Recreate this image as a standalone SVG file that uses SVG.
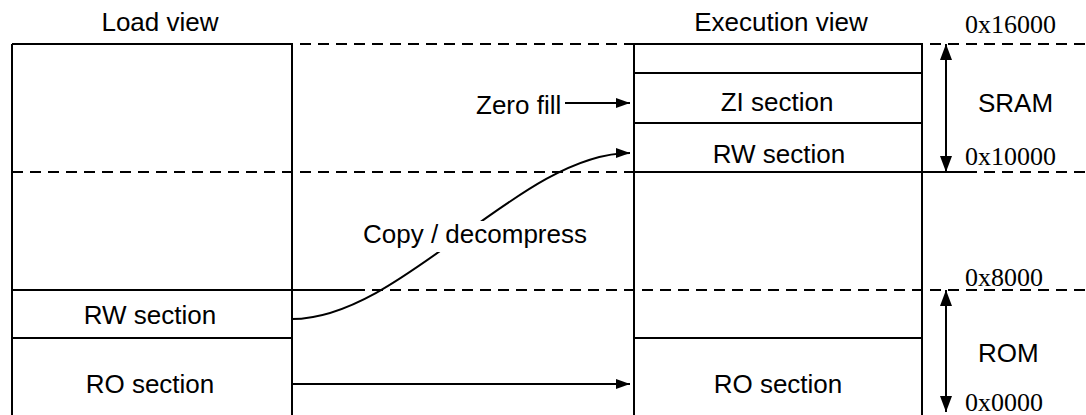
<svg xmlns="http://www.w3.org/2000/svg" width="1086" height="415" viewBox="0 0 1086 415">
<style>
.ln{stroke:#000;stroke-width:2;fill:none}
.dash{stroke:#000;stroke-width:2;fill:none;stroke-dasharray:11 7}
.t{font-family:"Liberation Sans",Arial,sans-serif;font-size:26px;fill:#000}
.s{font-family:"Liberation Serif","Times New Roman",serif;font-size:26px;fill:#000}
.m{text-anchor:middle}
</style>
<defs>
<marker id="ah" markerUnits="userSpaceOnUse" markerWidth="14" markerHeight="10" refX="14" refY="5" orient="auto-start-reverse">
<path d="M0,0 L14,5 L0,10 z" fill="#000"/>
</marker>
<marker id="ahv" markerUnits="userSpaceOnUse" markerWidth="16" markerHeight="12" refX="16" refY="6" orient="auto-start-reverse">
<path d="M0,0 L16,6 L0,12 z" fill="#000"/>
</marker>
</defs>
<rect width="1086" height="415" fill="#fff"/>

<g id="boundaries">
<line class="dash" x1="12" y1="44" x2="1086" y2="44"/>
<line class="dash" x1="12" y1="172" x2="1086" y2="172"/>
<line class="dash" x1="12" y1="290" x2="1086" y2="290"/>
</g>

<g id="load-view">
<text class="t m" x="160" y="31">Load view</text>
<line class="ln" x1="12" y1="44" x2="12" y2="415"/>
<line class="ln" x1="292" y1="44" x2="292" y2="415"/>
<line class="ln" x1="12" y1="44" x2="292" y2="44"/>
</g>
<g id="load-rw">
<line class="ln" x1="12" y1="290" x2="358" y2="290"/>
<line class="ln" x1="12" y1="338" x2="292" y2="338"/>
<text class="t m" x="150" y="324">RW section</text>
</g>
<g id="load-ro">
<text class="t m" x="150" y="393">RO section</text>
</g>

<g id="exec-view">
<text class="t m" x="781" y="31">Execution view</text>
<line class="ln" x1="634" y1="44" x2="634" y2="415"/>
<line class="ln" x1="922" y1="44" x2="922" y2="415"/>
<line class="ln" x1="634" y1="44" x2="922" y2="44"/>
<line class="ln" x1="634" y1="73" x2="922" y2="73"/>
</g>
<g id="exec-zi">
<line class="ln" x1="634" y1="123" x2="922" y2="123"/>
<text class="t m" x="777" y="111">ZI section</text>
</g>
<g id="exec-rw">
<line class="ln" x1="634" y1="172" x2="977" y2="172"/>
<text class="t m" x="779" y="163">RW section</text>
</g>
<g id="exec-ro">
<line class="ln" x1="634" y1="338" x2="922" y2="338"/>
<text class="t m" x="778" y="393">RO section</text>
</g>

<g id="zero-fill">
<text class="t" x="476" y="114">Zero fill</text>
</g>

<g id="sram">
<text class="t" x="978" y="112">SRAM</text>
</g>
<g id="rom">
<text class="t" x="978" y="362">ROM</text>
</g>

<g id="addresses">
<text class="s" x="965" y="33">0x16000</text>
<text class="s" x="965" y="165">0x10000</text>
<text class="s" x="965" y="286">0x8000</text>
<text class="s" x="965" y="411">0x0000</text>
</g>

<g id="connectors">
<line class="ln" x1="565" y1="103" x2="630" y2="103" marker-end="url(#ah)"/>
<path class="ln" d="M292,319 C402,319 520,153 630,153" marker-end="url(#ah)"/>
<line class="ln" x1="292" y1="384" x2="630" y2="384" marker-end="url(#ah)"/>
<line class="ln" x1="946" y1="44" x2="946" y2="172" marker-start="url(#ahv)" marker-end="url(#ahv)"/>
<line class="ln" x1="946" y1="290" x2="946" y2="412" marker-start="url(#ahv)" marker-end="url(#ahv)"/>
</g>

<g id="copy-label">
<rect x="360" y="221" width="230" height="31" fill="#fff"/>
<text class="t" x="363" y="243">Copy / decompress</text>
</g>
</svg>
